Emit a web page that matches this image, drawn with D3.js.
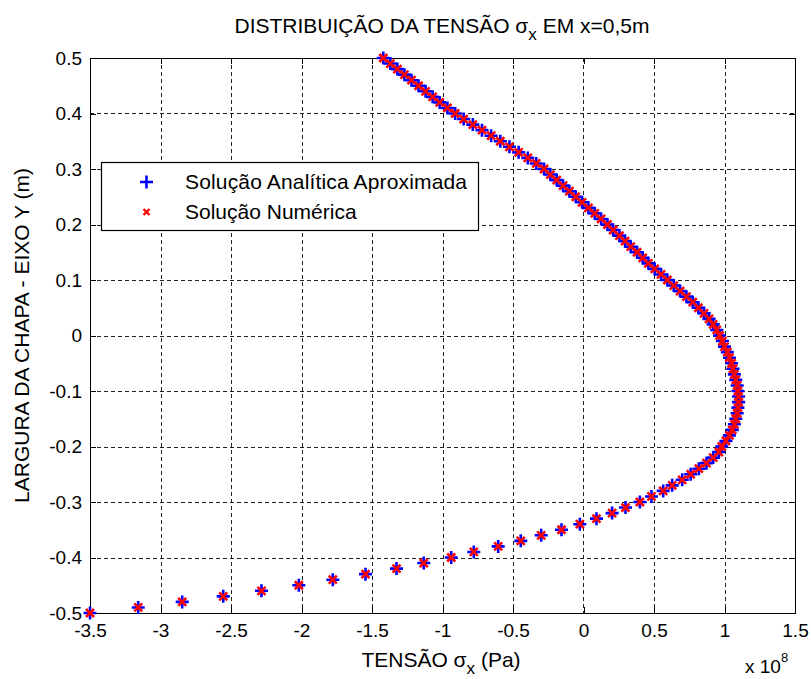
<!DOCTYPE html>
<html>
<head>
<meta charset="utf-8">
<script src="https://cdn.jsdelivr.net/npm/d3@7/dist/d3.min.js"></script>
<style>
  html, body { margin: 0; padding: 0; background: #fff; }
  svg { display: block; }
  text { font-family: "Liberation Sans", Arial, Helvetica, sans-serif; fill: #000; }
</style>
</head>
<body>
<svg id="chart" width="811" height="679"></svg>
<script>
// Plate width coordinate (m), from -0.5 to 0.5 in steps of 0.01
const yPositions = d3.range(101).map(i => +(-0.5 + i * 0.01).toFixed(2));

// Stress sigma_x at x = 0.5 m, in units of 1e8 Pa (approximate analytical solution)
const sigmaAnalytic = [
  -3.50, -3.158, -2.846, -2.555, -2.284, -2.019, -1.778, -1.546, -1.326, -1.133,
  -0.938, -0.778, -0.605, -0.445, -0.300, -0.156, -0.026, 0.092, 0.203, 0.298,
  0.400, 0.482, 0.565, 0.629, 0.700, 0.760, 0.818, 0.872, 0.920, 0.960,
  0.980, 1.010, 1.035, 1.055, 1.070, 1.080, 1.090, 1.095, 1.100, 1.100,
  1.095, 1.090, 1.080, 1.070, 1.060, 1.050, 1.035, 1.020, 1.000, 0.985,
  0.965, 0.945, 0.920, 0.890, 0.855, 0.815, 0.775, 0.730, 0.685, 0.640,
  0.595, 0.550, 0.505, 0.460, 0.420, 0.380, 0.335, 0.295, 0.255, 0.210,
  0.170, 0.125, 0.080, 0.035, -0.010, -0.055, -0.100, -0.145, -0.190, -0.235,
  -0.280, -0.335, -0.395, -0.460, -0.525, -0.590, -0.655, -0.720, -0.785, -0.850,
  -0.910, -0.965, -1.020, -1.070, -1.120, -1.170, -1.220, -1.270, -1.320, -1.370,
  -1.420
];

// Numerical solution, in units of 1e8 Pa (coincides with the analytical curve)
const sigmaNumeric = [
  -3.50, -3.158, -2.846, -2.555, -2.284, -2.019, -1.778, -1.546, -1.326, -1.133,
  -0.938, -0.778, -0.605, -0.445, -0.300, -0.156, -0.026, 0.092, 0.203, 0.298,
  0.400, 0.482, 0.565, 0.629, 0.700, 0.760, 0.818, 0.872, 0.920, 0.960,
  0.980, 1.010, 1.035, 1.055, 1.070, 1.080, 1.090, 1.095, 1.100, 1.100,
  1.095, 1.090, 1.080, 1.070, 1.060, 1.050, 1.035, 1.020, 1.000, 0.985,
  0.965, 0.945, 0.920, 0.890, 0.855, 0.815, 0.775, 0.730, 0.685, 0.640,
  0.595, 0.550, 0.505, 0.460, 0.420, 0.380, 0.335, 0.295, 0.255, 0.210,
  0.170, 0.125, 0.080, 0.035, -0.010, -0.055, -0.100, -0.145, -0.190, -0.235,
  -0.280, -0.335, -0.395, -0.460, -0.525, -0.590, -0.655, -0.720, -0.785, -0.850,
  -0.910, -0.965, -1.020, -1.070, -1.120, -1.170, -1.220, -1.270, -1.320, -1.370,
  -1.420
];

const xTicks = [-3.5, -3, -2.5, -2, -1.5, -1, -0.5, 0, 0.5, 1, 1.5];
const yTicks = [-0.5, -0.4, -0.3, -0.2, -0.1, 0, 0.1, 0.2, 0.3, 0.4, 0.5];
const seriesNames = ["Solução Analítica Aproximada", "Solução Numérica"];

const svg = d3.select("#chart");
const margin = { left: 90, right: 16, top: 58, bottom: 66 };
const W = 811, H = 679;
const pw = W - margin.left - margin.right;
const ph = H - margin.top - margin.bottom;

const x = d3.scaleLinear().domain([-3.5, 1.5]).range([0, pw]);
const y = d3.scaleLinear().domain([-0.5, 0.5]).range([ph, 0]);

const g = svg.append("g").attr("transform", `translate(${margin.left},${margin.top})`);

// Dotted grid
const grid = g.append("g").attr("stroke", "#222").attr("stroke-width", 1)
  .attr("stroke-dasharray", "4,3").attr("shape-rendering", "crispEdges");
grid.selectAll("line.vx").data(xTicks.slice(1, -1)).enter().append("line")
  .attr("x1", d => Math.round(x(d)) + 0.5).attr("x2", d => Math.round(x(d)) + 0.5)
  .attr("y1", 0).attr("y2", ph);
grid.selectAll("line.hy").data(yTicks.slice(1, -1)).enter().append("line")
  .attr("y1", d => Math.round(y(d)) + 0.5).attr("y2", d => Math.round(y(d)) + 0.5)
  .attr("x1", 0).attr("x2", pw);

// Axes with inward ticks on all four sides
const fmt = d => (d === 0 ? "0" : String(d));
const tickLen = 6;
const axisStyle = sel => {
  sel.select(".domain").remove();
  sel.selectAll(".tick line").attr("stroke", "#000").attr("shape-rendering", "crispEdges");
  sel.selectAll(".tick text").style("font-size", "19px")
    .style("font-family", '"Liberation Sans", Arial, sans-serif').attr("fill", "#000");
};
g.append("g").attr("transform", `translate(0,${ph})`)
  .call(d3.axisBottom(x).tickValues(xTicks).tickFormat(fmt).tickSizeInner(-tickLen).tickSizeOuter(0).tickPadding(11))
  .call(axisStyle);
g.append("g")
  .call(d3.axisTop(x).tickValues(xTicks).tickFormat("").tickSizeInner(-tickLen).tickSizeOuter(0))
  .call(axisStyle);
g.append("g")
  .call(d3.axisLeft(y).tickValues(yTicks).tickFormat(fmt).tickSizeInner(-tickLen).tickSizeOuter(0).tickPadding(8))
  .call(axisStyle);
g.append("g").attr("transform", `translate(${pw},0)`)
  .call(d3.axisRight(y).tickValues(yTicks).tickFormat("").tickSizeInner(-tickLen).tickSizeOuter(0))
  .call(axisStyle);

// Frame
g.append("rect").attr("x", 0.5).attr("y", 0.5).attr("width", pw).attr("height", ph)
  .attr("fill", "none").attr("stroke", "#000").attr("stroke-width", 1)
  .attr("shape-rendering", "crispEdges");

// Markers
const plusPath = s => `M${-s},0H${s}M0,${-s}V${s}`;
const crossPath = s => `M${-s},${-s}L${s},${s}M${-s},${s}L${s},${-s}`;

const pts = g.append("g");
pts.selectAll("path.analytic").data(yPositions).enter().append("path")
  .attr("class", "analytic")
  .attr("transform", (d, i) => `translate(${x(sigmaAnalytic[i])},${y(d)})`)
  .attr("d", plusPath(6.5)).attr("stroke", "#0000ff").attr("stroke-width", 2.6)
  .attr("fill", "none");
pts.selectAll("path.numeric").data(yPositions).enter().append("path")
  .attr("class", "numeric")
  .attr("transform", (d, i) => `translate(${x(sigmaNumeric[i])},${y(d)})`)
  .attr("d", crossPath(4)).attr("stroke", "#ff0000").attr("stroke-width", 2.6)
  .attr("fill", "none");

// Legend
const lg = g.append("g").attr("transform", `translate(${101 - margin.left},${162 - margin.top})`);
lg.append("rect").attr("x", 0.5).attr("y", 0.5).attr("width", 377).attr("height", 68)
  .attr("fill", "#fff").attr("stroke", "#000").attr("stroke-width", 1.2);
lg.append("path").attr("transform", "translate(45.5,20)").attr("d", plusPath(6.5))
  .attr("stroke", "#0000ff").attr("stroke-width", 2.6).attr("fill", "none");
lg.append("path").attr("transform", "translate(45.5,50)").attr("d", crossPath(3))
  .attr("stroke", "#ff0000").attr("stroke-width", 2.4).attr("fill", "none");
lg.selectAll("text").data(seriesNames).enter().append("text")
  .attr("x", 84).attr("y", (d, i) => 27 + i * 30)
  .style("font-size", "21px").attr("textLength", (d, i) => i === 0 ? 282 : null)
  .text(d => d);

// Title
const title = svg.append("text").attr("x", 442).attr("y", 33)
  .attr("text-anchor", "middle").style("font-size", "21px");
title.append("tspan").text("DISTRIBUIÇÃO DA TENSÃO σ");
title.append("tspan").attr("dy", 7).style("font-size", "17px").text("x");
title.append("tspan").attr("dy", -7).text(" EM x=0,5m");

// X axis label
const xl = svg.append("text").attr("x", 441).attr("y", 667)
  .attr("text-anchor", "middle").style("font-size", "21px");
xl.append("tspan").text("TENSÃO σ");
xl.append("tspan").attr("dy", 7).style("font-size", "17px").text("x");
xl.append("tspan").attr("dy", -7).text(" (Pa)");

// Exponent label
const ex = svg.append("text").attr("x", 745).attr("y", 673).style("font-size", "19px");
ex.append("tspan").text("x 10");
ex.append("tspan").attr("dy", -11).style("font-size", "13px").text("8");

// Y axis label
svg.append("text")
  .attr("transform", `translate(29,${margin.top + ph / 2}) rotate(-90)`)
  .attr("text-anchor", "middle").style("font-size", "21px")
  .text("LARGURA DA CHAPA - EIXO Y (m)");
</script>
</body>
</html>
